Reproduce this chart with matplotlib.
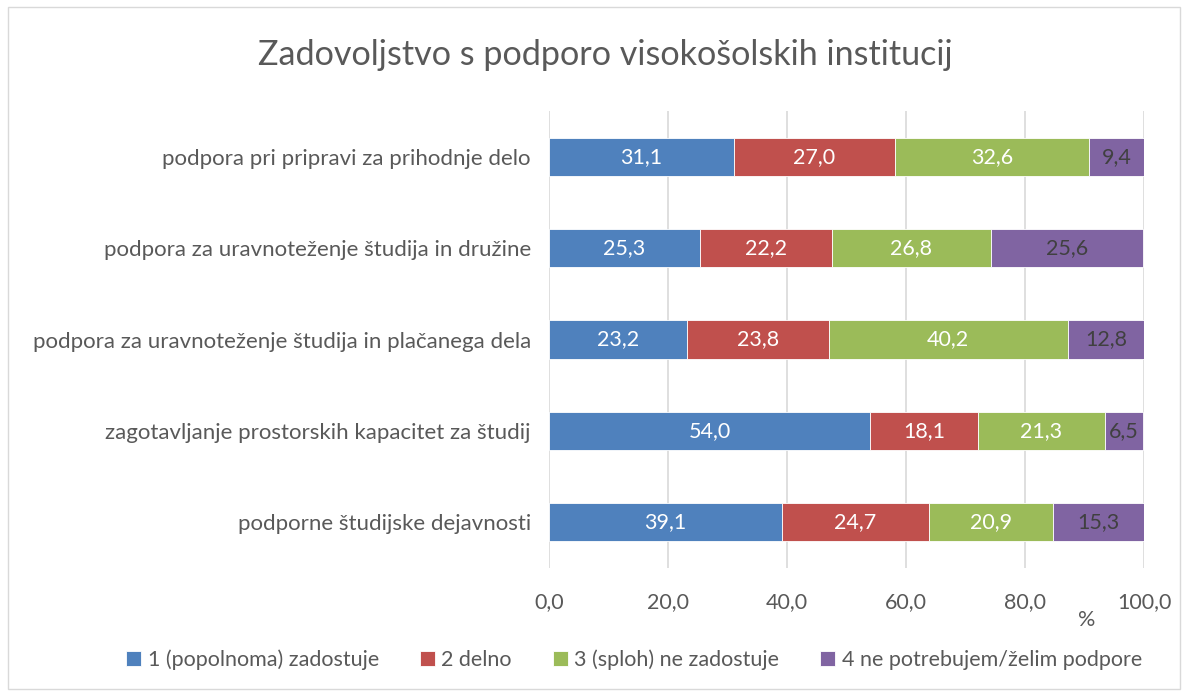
import matplotlib
matplotlib.use("Agg")
import matplotlib.pyplot as plt
from matplotlib.patches import Rectangle
import numpy as np

plt.rcParams['font.family'] = ['Lato', 'DejaVu Sans']

# podatki
kategorije = ["podpora pri pripravi za prihodnje delo",
              "podpora za uravnoteženje študija in družine",
              "podpora za uravnoteženje študija in plačanega dela",
              "zagotavljanje prostorskih kapacitet za študij",
              "podporne študijske dejavnosti"]
s1 = [31.1, 25.3, 23.2, 54.0, 39.1]
s2 = [27.0, 22.2, 23.8, 18.1, 24.7]
s3 = [32.6, 26.8, 40.2, 21.3, 20.9]
s4 = [9.4, 25.6, 12.8, 6.5, 15.3]
serije = ["1 (popolnoma) zadostuje", "2 delno", "3 (sploh) ne zadostuje",
          "4 ne potrebujem/želim podpore"]
barve = ["#4F81BD", "#C0504D", "#9BBB59", "#8064A2"]
barve_besedila = ["white", "white", "white", "#404040"]
x_ticks = [0, 20, 40, 60, 80, 100]

siva = "#595959"

fig = plt.figure(figsize=(11.89, 6.97), dpi=100)
ax = fig.add_axes([549/1189, 1 - 568/697, (1144-549)/1189, (568-111)/697])

# okvir grafa
fig.patches.append(Rectangle((8/1189, 8/697), 1172/1189, 682/697, transform=fig.transFigure,
                             fill=False, edgecolor="#D9D9D9", linewidth=1))

y = np.arange(len(kategorije))
levo = np.zeros(len(kategorije))
for vals, ime, c, tc in zip([s1, s2, s3, s4], serije, barve, barve_besedila):
    vals = np.array(vals)
    bars = ax.barh(y, vals, left=levo, height=0.42, color=c, edgecolor="white",
                   linewidth=0.6, label=ime, zorder=3)
    for b, v in zip(bars, vals):
        ax.text(b.get_x() + b.get_width()/2, b.get_y() + b.get_height()/2,
                f"{v:.1f}".replace(".", ","), ha="center", va="center",
                color=tc, fontsize=15.5, zorder=4)
    levo += vals

ax.set_ylim(len(kategorije) - 0.5, -0.5)
ax.set_xlim(0, 100)
ax.set_yticks(y)
ax.set_yticklabels(kategorije, fontsize=16, color=siva)
ax.set_xticks(x_ticks)
ax.set_xticklabels([f"{t:.1f}".replace(".", ",") for t in x_ticks], fontsize=15.5, color=siva)
ax.tick_params(axis="both", length=0)
ax.tick_params(axis="y", pad=13)
ax.tick_params(axis="x", pad=17)
ax.grid(axis="x", color="#D9D9D9", linewidth=1.2, zorder=0)
for s in ax.spines.values():
    s.set_visible(False)

fig.text(1087/1189, 1 - 620/697, "%", fontsize=15.5, color=siva, ha="center", va="center")

fig.text(605/1189, 1 - 55/697, "Zadovoljstvo s podporo visokošolskih institucij",
         fontsize=24.6, color=siva, ha="center", va="center")

fig.legend(loc="center", bbox_to_anchor=(634/1189, 1 - 660/697), ncol=4, frameon=False,
           fontsize=15.5, labelcolor=siva, handlelength=0.7, handleheight=0.7,
           handletextpad=0.3, columnspacing=1.9)

fig.savefig("out.png", dpi=100)
